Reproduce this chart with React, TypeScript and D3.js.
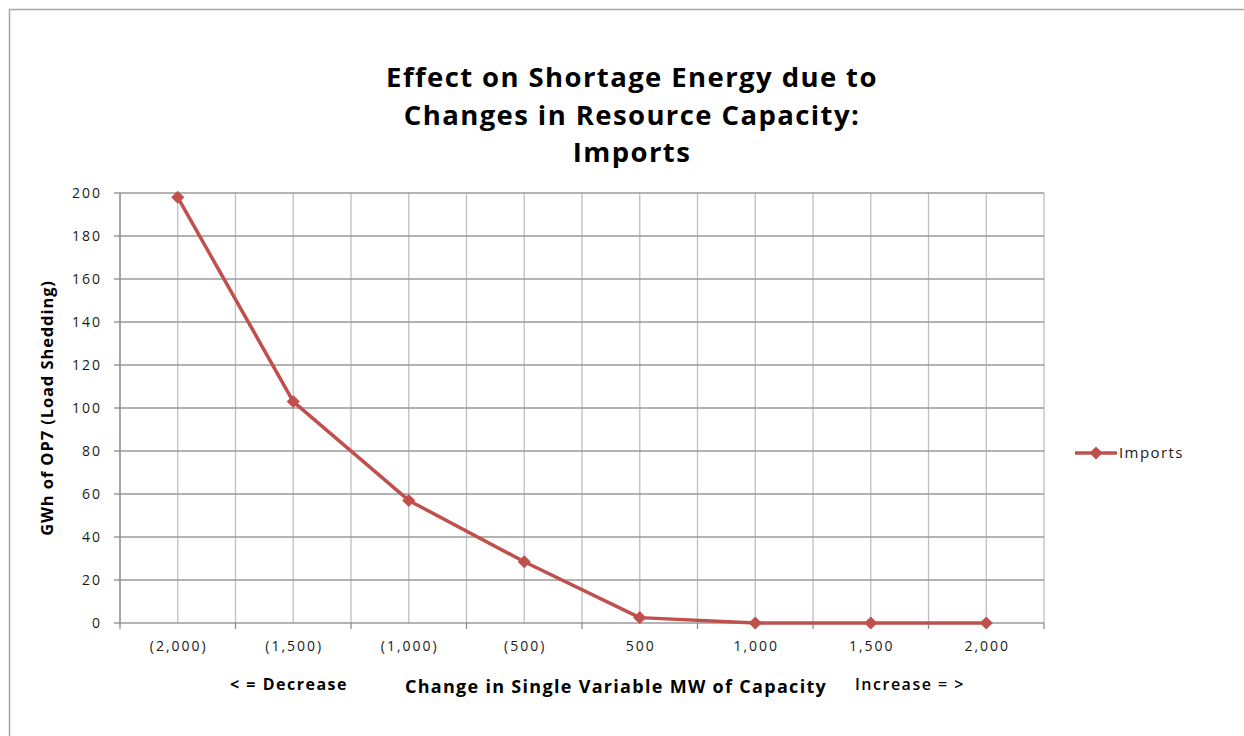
import React, { useRef, useEffect } from "react";
import * as d3 from "d3";

// Chart data
const categories = ["(2,000)", "(1,500)", "(1,000)", "(500)", "500", "1,000", "1,500", "2,000"];
const imports = [198, 103, 57, 28.5, 2.5, 0, 0, 0];
const yTicks = [0, 20, 40, 60, 80, 100, 120, 140, 160, 180, 200];
const titleLines = ["Effect on Shortage Energy due to", "Changes in Resource Capacity:", "Imports"];

const FONT = "'Open Sans', Lato, sans-serif";
const RED = "#c0504d";

const App: React.FC = () => {
  const svgRef = useRef<SVGSVGElement | null>(null);

  useEffect(() => {
    const svg = d3.select(svgRef.current);
    svg.selectAll("*").remove();

    const W = 1244;
    const H = 736;
    const margin = { top: 193, right: 200, bottom: 113, left: 120 };
    const width = W - margin.left - margin.right;
    const height = H - margin.top - margin.bottom;

    // outer chart frame (runs off the right/bottom edge)
    svg
      .append("rect")
      .attr("x", 9.5)
      .attr("y", 9.5)
      .attr("width", W + 20)
      .attr("height", H + 20)
      .attr("fill", "#fff")
      .attr("stroke", "#a6a6a6")
      .attr("stroke-width", 1.5);

    // title
    svg
      .append("text")
      .attr("text-anchor", "middle")
      .attr("font-family", FONT)
      .attr("font-weight", "bold")
      .attr("font-size", 27.5)
      .attr("letter-spacing", 1.4)
      .attr("fill", "#000")
      .selectAll("tspan")
      .data(titleLines)
      .enter()
      .append("tspan")
      .attr("x", 632)
      .attr("y", (_, i) => 87 + i * 37.5)
      .text((d) => d);

    const g = svg.append("g").attr("transform", `translate(${margin.left},${margin.top})`);

    const x = d3.scaleBand().domain(categories).range([0, width]).padding(0);
    const y = d3.scaleLinear().domain([0, 200]).range([height, 0]);
    const cx = (c: string) => x(c)! + x.bandwidth() / 2;

    // vertical grid lines at category centers and boundaries
    const vLines: number[] = [];
    categories.forEach((c) => {
      vLines.push(x(c)!);
      vLines.push(cx(c));
    });
    vLines.push(width);
    g.selectAll("line.vgrid")
      .data(vLines)
      .enter()
      .append("line")
      .attr("class", "vgrid")
      .attr("x1", (d) => d)
      .attr("x2", (d) => d)
      .attr("y1", 0)
      .attr("y2", height)
      .attr("stroke", "#bfbfbf")
      .attr("stroke-width", 1.3);

    // horizontal grid
    g.selectAll("line.hgrid")
      .data(yTicks)
      .enter()
      .append("line")
      .attr("class", "hgrid")
      .attr("x1", -6)
      .attr("x2", width)
      .attr("y1", (d) => y(d))
      .attr("y2", (d) => y(d))
      .attr("stroke", "#9a9a9a")
      .attr("stroke-width", 1.3);

    // y axis line
    g.append("line")
      .attr("x1", 0)
      .attr("x2", 0)
      .attr("y1", 0)
      .attr("y2", height)
      .attr("stroke", "#8c8c8c")
      .attr("stroke-width", 1.3);

    // x axis ticks at band boundaries
    const xTicks = categories.map((c) => x(c)!).concat([width]);
    g.selectAll("line.xtick")
      .data(xTicks)
      .enter()
      .append("line")
      .attr("x1", (d) => d)
      .attr("x2", (d) => d)
      .attr("y1", height)
      .attr("y2", height + 6)
      .attr("stroke", "#8c8c8c")
      .attr("stroke-width", 1.3);

    // y tick labels
    g.selectAll("text.ylab")
      .data(yTicks)
      .enter()
      .append("text")
      .attr("x", -18)
      .attr("y", (d) => y(d) + 5)
      .attr("text-anchor", "end")
      .attr("font-family", FONT)
      .attr("font-size", 14)
      .attr("letter-spacing", 2)
      .attr("fill", "#1a1a1a")
      .text((d) => d);

    // x tick labels
    g.selectAll("text.xlab")
      .data(categories)
      .enter()
      .append("text")
      .attr("x", (d) => cx(d) + 1)
      .attr("y", height + 28)
      .attr("text-anchor", "middle")
      .attr("font-family", FONT)
      .attr("font-size", 14)
      .attr("letter-spacing", 2)
      .attr("fill", "#1a1a1a")
      .text((d) => d);

    // series line
    const line = d3
      .line<number>()
      .x((_, i) => cx(categories[i]))
      .y((d) => y(d));

    g.append("path")
      .datum(imports)
      .attr("d", line)
      .attr("fill", "none")
      .attr("stroke", RED)
      .attr("stroke-width", 3.5)
      .attr("stroke-linejoin", "round");

    const diamond = d3.symbol().type(d3.symbolDiamond2).size(110);
    g.selectAll("path.marker")
      .data(imports)
      .enter()
      .append("path")
      .attr("class", "marker")
      .attr("d", diamond)
      .attr("transform", (d, i) => `translate(${cx(categories[i])},${y(d)})`)
      .attr("fill", RED);

    // axis titles
    svg
      .append("text")
      .attr("transform", `translate(53,${margin.top + height / 2}) rotate(-90)`)
      .attr("text-anchor", "middle")
      .attr("font-family", FONT)
      .attr("font-weight", "bold")
      .attr("font-size", 16.5)
      .attr("letter-spacing", 0.9)
      .attr("fill", "#000")
      .text("GWh of OP7 (Load Shedding)");

    svg
      .append("text")
      .attr("x", 616)
      .attr("y", 693)
      .attr("text-anchor", "middle")
      .attr("font-family", FONT)
      .attr("font-weight", "bold")
      .attr("font-size", 18)
      .attr("letter-spacing", 1.3)
      .attr("fill", "#000")
      .text("Change in Single Variable MW of Capacity");

    svg
      .append("text")
      .attr("x", 289)
      .attr("y", 690)
      .attr("text-anchor", "middle")
      .attr("font-family", FONT)
      .attr("font-weight", "bold")
      .attr("font-size", 16)
      .attr("letter-spacing", 1.5)
      .attr("fill", "#000")
      .text("< = Decrease");

    svg
      .append("text")
      .attr("x", 910)
      .attr("y", 690)
      .attr("text-anchor", "middle")
      .attr("font-family", FONT)
      .attr("font-weight", 600)
      .attr("font-size", 16)
      .attr("letter-spacing", 1.5)
      .attr("fill", "#000")
      .text("Increase = >");

    // legend
    const lg = svg.append("g").attr("transform", "translate(1075,453)");
    lg.append("line")
      .attr("x1", 0)
      .attr("x2", 42)
      .attr("y1", 0)
      .attr("y2", 0)
      .attr("stroke", RED)
      .attr("stroke-width", 3.5);
    lg.append("path")
      .attr("d", diamond)
      .attr("transform", "translate(21,0)")
      .attr("fill", RED);
    lg.append("text")
      .attr("x", 44)
      .attr("y", 5)
      .attr("font-family", FONT)
      .attr("font-size", 15)
      .attr("letter-spacing", 1.4)
      .attr("fill", "#1a1a1a")
      .text("Imports");
  }, []);

  return (
    <svg
      ref={svgRef}
      width={1244}
      height={736}
      style={{ position: "absolute", left: 0, top: 0, background: "#fff" }}
    ></svg>
  );
};

export default App;
